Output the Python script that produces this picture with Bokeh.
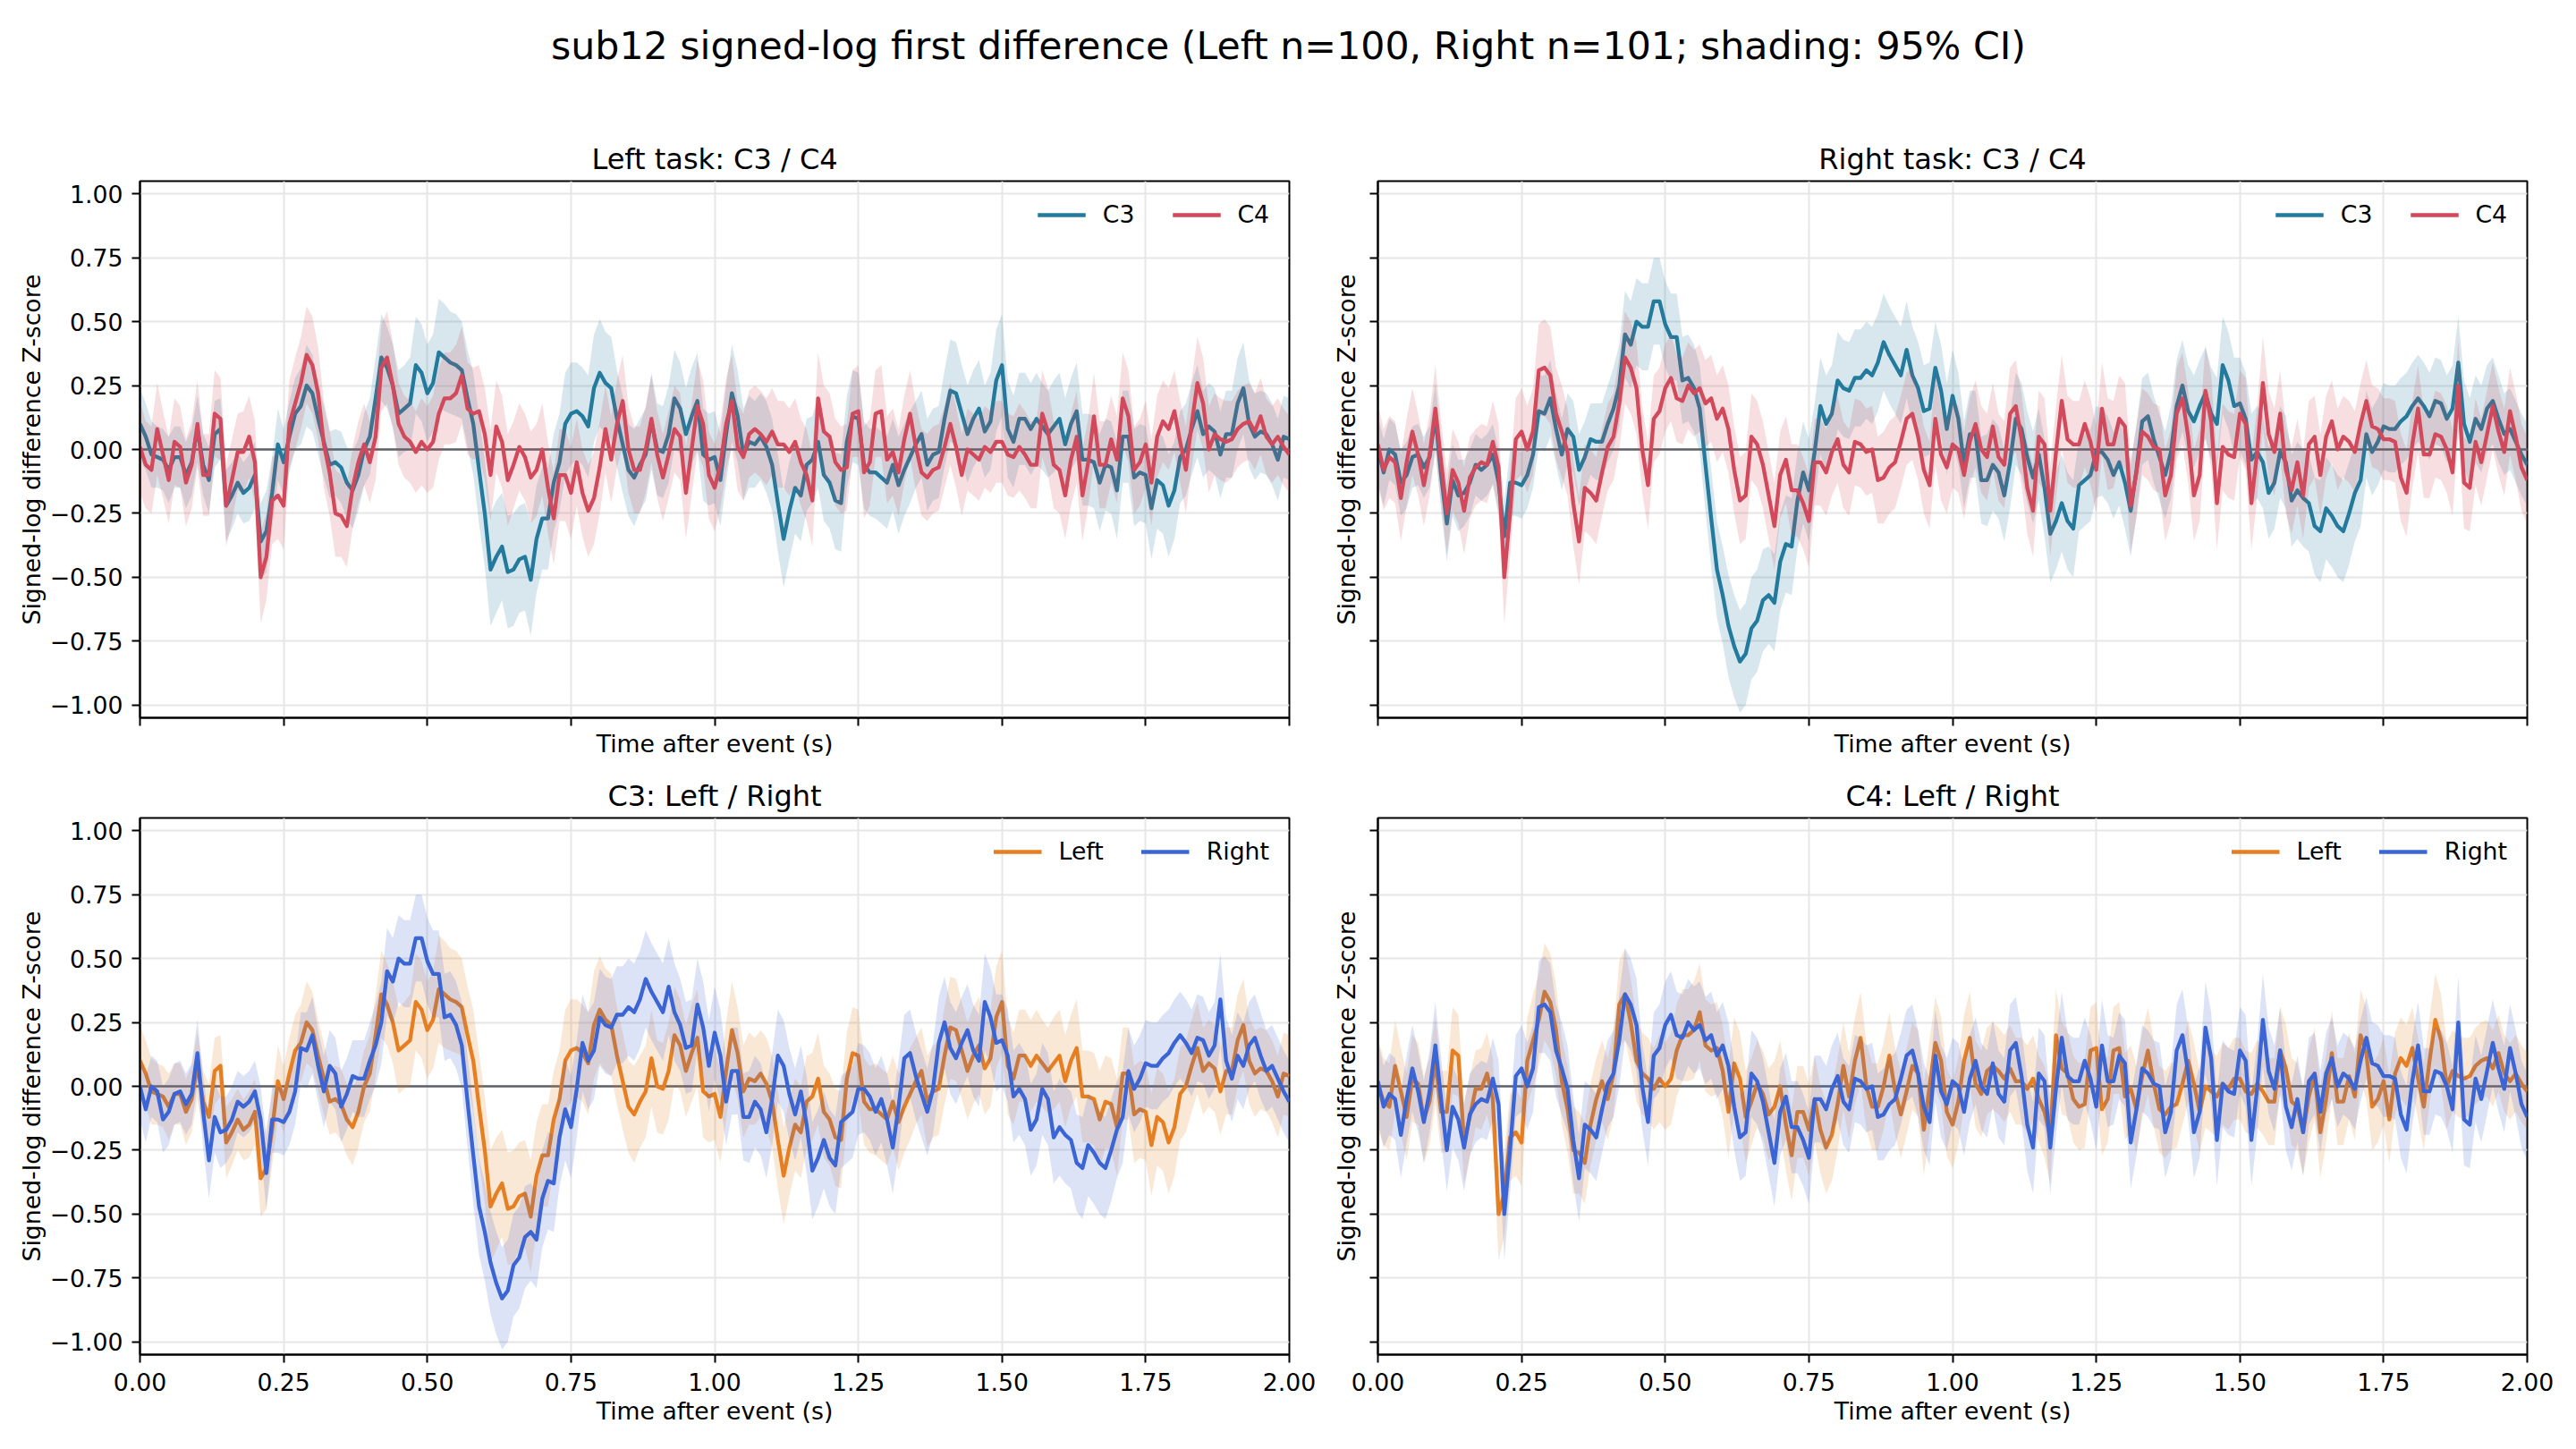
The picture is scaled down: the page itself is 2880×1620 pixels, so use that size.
import numpy as np
from bokeh.plotting import figure
from bokeh.models import (Range1d, FixedTicker, Legend, LegendItem, Span, Label,
                          CustomJSTickFormatter)
from bokeh.layouts import column, gridplot
from bokeh.embed import file_html
from bokeh.resources import INLINE

FONT = "DejaVu Sans"
SUPTITLE = "sub12 signed-log first difference (Left n=100, Right n=101; shading: 95% CI)"
PANEL_TITLES = ["Left task: C3 / C4", "Right task: C3 / C4", "C3: Left / Right", "C4: Left / Right"]
X_LABEL = "Time after event (s)"
Y_LABEL = "Signed-log difference Z-score"

# time axis: 0 .. 2 s in 10 ms steps
t = np.round(np.arange(201) * 0.01, 2)

x_ticks = [0.0, 0.25, 0.5, 0.75, 1.0, 1.25, 1.5, 1.75, 2.0]
x_tick_labels = ["0.00", "0.25", "0.50", "0.75", "1.00", "1.25", "1.50", "1.75", "2.00"]
y_ticks = [-1.0, -0.75, -0.5, -0.25, 0.0, 0.25, 0.5, 0.75, 1.0]
y_tick_labels = ["\u22121.00", "\u22120.75", "\u22120.50", "\u22120.25", "0.00", "0.25", "0.50", "0.75", "1.00"]

# mean z-score per condition / channel
left_c3 = [
    0.10, 0.05, -0.02, -0.03, -0.04, -0.08, -0.03, -0.03, -0.10, -0.05,
    0.08, -0.06, -0.12, 0.06, 0.08, -0.22, -0.18, -0.13, -0.17, -0.15,
    -0.10, -0.36, -0.32, -0.17, 0.02, -0.05, 0.05, 0.14, 0.17, 0.25,
    0.22, 0.12, 0.03, -0.06, -0.05, -0.07, -0.13, -0.16, -0.10, 0.00,
    0.05, 0.20, 0.36, 0.32, 0.25, 0.14, 0.16, 0.18, 0.33, 0.30,
    0.22, 0.26, 0.38, 0.36, 0.34, 0.33, 0.31, 0.20, 0.10, -0.08,
    -0.25, -0.47, -0.42, -0.38, -0.48, -0.47, -0.43, -0.42, -0.51, -0.35,
    -0.27, -0.27, -0.13, -0.05, 0.10, 0.14, 0.15, 0.13, 0.09, 0.24,
    0.30, 0.26, 0.24, 0.12, 0.02, -0.08, -0.11, -0.06, -0.02, 0.11,
    0.00, -0.01, 0.06, 0.20, 0.16, 0.06, 0.13, 0.19, -0.02, -0.04,
    -0.03, -0.12, 0.06, 0.22, 0.13, -0.02, 0.03, 0.02, 0.05, 0.01,
    -0.06, -0.21, -0.35, -0.24, -0.15, -0.18, -0.06, -0.04, 0.03, -0.10,
    -0.13, -0.20, -0.21, 0.03, 0.13, 0.12, -0.06, -0.09, -0.09, -0.11,
    -0.13, -0.06, -0.14, -0.08, -0.03, 0.02, 0.06, -0.06, -0.02, -0.01,
    0.12, 0.23, 0.22, 0.14, 0.06, 0.12, 0.16, 0.07, 0.11, 0.27,
    0.33, 0.08, 0.03, 0.12, 0.12, 0.08, 0.12, 0.09, 0.06, 0.09,
    0.12, 0.02, 0.10, 0.15, -0.04, -0.04, -0.05, -0.13, -0.06, -0.07,
    -0.16, 0.05, 0.05, -0.11, -0.09, -0.10, -0.23, -0.12, -0.14, -0.22,
    -0.16, -0.03, 0.00, 0.08, 0.15, 0.06, 0.09, 0.07, -0.02, 0.06,
    0.06, 0.18, 0.24, 0.10, 0.05, 0.07, 0.06, 0.02, -0.04, 0.05,
    0.04,
]
left_c4 = [
    0.01, -0.06, -0.08, 0.08, -0.02, -0.12, 0.03, 0.01, -0.13, -0.06,
    0.10, -0.10, -0.10, 0.14, 0.12, -0.22, -0.12, -0.01, -0.01, 0.05,
    -0.05, -0.50, -0.42, -0.20, -0.18, -0.22, 0.10, 0.18, 0.26, 0.37,
    0.33, 0.22, 0.02, -0.09, -0.25, -0.26, -0.30, -0.15, -0.05, 0.02,
    -0.05, 0.05, 0.32, 0.36, 0.25, 0.10, 0.05, 0.03, -0.01, 0.03,
    0.00, 0.03, 0.14, 0.20, 0.20, 0.22, 0.29, 0.16, 0.14, 0.15,
    0.06, -0.10, 0.09, 0.03, -0.12, -0.06, 0.01, -0.03, -0.11, -0.08,
    0.00, -0.15, -0.27, -0.10, -0.10, -0.17, -0.05, -0.17, -0.24, -0.19,
    -0.07, 0.08, -0.04, 0.10, 0.19, 0.00, -0.08, -0.08, 0.00, 0.12,
    -0.02, -0.11, -0.02, 0.08, 0.05, -0.17, 0.00, 0.17, 0.10, -0.10,
    -0.15, -0.06, 0.10, 0.19, 0.01, -0.03, 0.06, 0.08, 0.06, 0.03,
    0.07, 0.02, 0.02, -0.01, 0.03, -0.05, -0.10, -0.20, 0.20, 0.07,
    0.05, -0.05, -0.08, -0.07, 0.14, 0.15, -0.09, -0.05, 0.14, 0.15,
    -0.04, -0.01, -0.09, 0.04, 0.14, 0.01, -0.09, -0.11, -0.08, -0.07,
    0.01, 0.10, 0.01, -0.10, 0.00, -0.02, -0.04, 0.01, -0.01, 0.03,
    0.03, -0.02, -0.03, 0.01, -0.02, -0.06, -0.06, 0.14, 0.07, -0.06,
    -0.08, -0.18, -0.04, 0.05, -0.18, -0.05, 0.13, -0.06, -0.06, 0.04,
    -0.04, 0.20, 0.13, -0.08, -0.05, 0.02, -0.13, 0.05, 0.11, 0.08,
    0.15, 0.03, -0.08, 0.10, 0.26, 0.18, 0.00, 0.06, 0.04, 0.03,
    0.04, 0.08, 0.10, 0.11, 0.07, 0.13, 0.05, 0.02, 0.05, 0.01,
    -0.02,
]
right_c3 = [
    0.00, -0.09, 0.00, -0.02, -0.13, -0.10, -0.03, -0.02, -0.07, -0.03,
    0.13, -0.10, -0.29, -0.12, -0.18, -0.17, -0.13, -0.06, -0.08, -0.06,
    -0.02, -0.13, -0.34, -0.13, -0.13, -0.14, -0.10, -0.02, 0.15, 0.14,
    0.20, 0.08, -0.02, 0.08, 0.05, -0.08, -0.03, 0.04, 0.03, 0.03,
    0.10, 0.16, 0.25, 0.45, 0.41, 0.50, 0.48, 0.48, 0.58, 0.58,
    0.49, 0.44, 0.44, 0.27, 0.28, 0.24, 0.16, -0.06, -0.27, -0.47,
    -0.57, -0.69, -0.77, -0.83, -0.80, -0.70, -0.67, -0.59, -0.57, -0.60,
    -0.44, -0.37, -0.38, -0.20, -0.09, -0.16, -0.01, 0.17, 0.10, 0.14,
    0.27, 0.24, 0.23, 0.28, 0.28, 0.31, 0.29, 0.34, 0.42, 0.37,
    0.33, 0.29, 0.39, 0.29, 0.24, 0.15, 0.16, 0.32, 0.23, 0.08,
    0.21, 0.12, -0.06, 0.06, 0.06, -0.12, -0.12, -0.06, -0.09, -0.18,
    -0.05, 0.12, 0.08, -0.03, -0.11, -0.02, -0.15, -0.33, -0.28, -0.21,
    -0.28, -0.31, -0.14, -0.12, -0.10, -0.01, -0.01, -0.04, -0.10, -0.05,
    -0.13, -0.24, -0.08, 0.11, 0.13, 0.04, -0.03, -0.10, -0.01, 0.17,
    0.25, 0.15, 0.11, 0.17, 0.22, 0.14, 0.10, 0.33, 0.27, 0.17,
    0.18, 0.12, -0.04, -0.01, -0.05, -0.17, -0.13, -0.01, -0.05, -0.20,
    -0.16, -0.19, -0.21, -0.30, -0.32, -0.23, -0.26, -0.30, -0.32, -0.25,
    -0.17, -0.12, 0.06, -0.01, 0.03, 0.09, 0.08, 0.08, 0.11, 0.13,
    0.17, 0.20, 0.17, 0.13, 0.19, 0.18, 0.12, 0.16, 0.34, 0.10,
    0.03, 0.12, 0.08, 0.16, 0.19, 0.12, 0.06, 0.08, 0.03, -0.02,
    -0.06,
]
right_c4 = [
    0.02, -0.08, -0.03, -0.05, -0.19, -0.05, 0.07, -0.02, -0.14, -0.02,
    0.16, -0.05, -0.25, -0.08, -0.13, -0.24, -0.11, -0.07, -0.05, -0.06,
    0.03, -0.07, -0.50, -0.25, 0.04, 0.07, 0.00, 0.07, 0.31, 0.32,
    0.29, 0.14, 0.07, -0.01, -0.21, -0.36, -0.15, -0.17, -0.20, -0.09,
    0.01, 0.05, 0.18, 0.36, 0.32, 0.24, 0.00, -0.14, 0.12, 0.15,
    0.24, 0.28, 0.20, 0.19, 0.25, 0.22, 0.24, 0.18, 0.20, 0.12,
    0.16, 0.08, -0.08, -0.20, -0.18, 0.05, 0.02, -0.06, -0.18, -0.30,
    -0.10, -0.04, -0.16, -0.16, -0.21, -0.28, -0.05, -0.05, -0.09, -0.01,
    0.04, -0.06, -0.09, 0.03, 0.02, -0.01, 0.00, -0.12, -0.11, -0.07,
    -0.05, 0.03, 0.12, 0.14, 0.05, -0.08, -0.14, 0.12, -0.02, -0.07,
    0.02, 0.00, -0.10, 0.03, 0.10, 0.00, -0.03, 0.09, -0.03, -0.06,
    0.14, 0.17, 0.04, -0.15, -0.24, 0.05, 0.02, -0.24, -0.01, 0.19,
    0.04, 0.02, 0.02, 0.10, 0.03, -0.08, 0.16, 0.02, 0.02, 0.12,
    0.09, -0.22, -0.09, 0.07, 0.05, 0.01, 0.00, -0.18, -0.10, 0.14,
    0.20, 0.05, -0.18, -0.10, 0.23, 0.11, -0.21, 0.01, -0.02, -0.03,
    0.14, 0.10, -0.21, -0.01, 0.26, 0.06, -0.01, 0.14, -0.08, -0.16,
    -0.05, -0.18, 0.02, 0.05, -0.10, 0.05, 0.11, 0.00, 0.05, 0.03,
    -0.01, 0.10, 0.19, 0.09, 0.08, 0.04, 0.04, 0.03, -0.11, -0.17,
    0.02, 0.16, -0.02, -0.02, 0.06, 0.05, 0.00, -0.09, 0.25, -0.13,
    -0.15, 0.03, -0.05, 0.06, 0.17, 0.07, -0.01, 0.15, 0.05, -0.07,
    -0.12,
]

# 95% CI half-widths
left_c3_ci = [
    0.14, 0.13, 0.13, 0.12, 0.12, 0.13, 0.12, 0.12, 0.13, 0.13,
    0.13, 0.12, 0.13, 0.13, 0.12, 0.14, 0.13, 0.12, 0.12, 0.13,
    0.13, 0.15, 0.16, 0.14, 0.14, 0.13, 0.14, 0.14, 0.15, 0.16,
    0.15, 0.14, 0.14, 0.13, 0.13, 0.14, 0.14, 0.15, 0.14, 0.14,
    0.15, 0.16, 0.17, 0.16, 0.16, 0.17, 0.17, 0.18, 0.19, 0.19,
    0.19, 0.19, 0.21, 0.21, 0.20, 0.20, 0.19, 0.19, 0.20, 0.21,
    0.21, 0.22, 0.22, 0.21, 0.22, 0.22, 0.21, 0.21, 0.22, 0.21,
    0.20, 0.20, 0.19, 0.19, 0.20, 0.20, 0.19, 0.19, 0.20, 0.21,
    0.21, 0.20, 0.20, 0.19, 0.19, 0.18, 0.19, 0.18, 0.18, 0.19,
    0.18, 0.18, 0.19, 0.19, 0.18, 0.18, 0.19, 0.19, 0.18, 0.18,
    0.18, 0.18, 0.19, 0.19, 0.18, 0.18, 0.18, 0.17, 0.17, 0.18,
    0.18, 0.19, 0.19, 0.19, 0.18, 0.18, 0.18, 0.17, 0.18, 0.18,
    0.18, 0.19, 0.19, 0.18, 0.18, 0.18, 0.17, 0.17, 0.18, 0.18,
    0.18, 0.18, 0.19, 0.18, 0.18, 0.17, 0.17, 0.18, 0.18, 0.18,
    0.19, 0.20, 0.20, 0.19, 0.19, 0.19, 0.19, 0.18, 0.19, 0.20,
    0.20, 0.19, 0.18, 0.18, 0.18, 0.18, 0.18, 0.17, 0.17, 0.18,
    0.18, 0.18, 0.18, 0.19, 0.18, 0.18, 0.18, 0.19, 0.18, 0.18,
    0.19, 0.18, 0.18, 0.19, 0.19, 0.19, 0.20, 0.19, 0.19, 0.20,
    0.19, 0.18, 0.18, 0.18, 0.18, 0.17, 0.17, 0.17, 0.17, 0.17,
    0.17, 0.18, 0.18, 0.17, 0.17, 0.16, 0.16, 0.16, 0.16, 0.16,
    0.16,
]
left_c4_ci = [
    0.18, 0.17, 0.17, 0.18, 0.17, 0.17, 0.17, 0.16, 0.17, 0.17,
    0.17, 0.16, 0.16, 0.17, 0.16, 0.16, 0.16, 0.15, 0.16, 0.16,
    0.16, 0.18, 0.17, 0.17, 0.17, 0.17, 0.17, 0.18, 0.18, 0.19,
    0.19, 0.18, 0.17, 0.17, 0.17, 0.16, 0.16, 0.16, 0.16, 0.16,
    0.16, 0.17, 0.17, 0.18, 0.17, 0.16, 0.16, 0.16, 0.16, 0.17,
    0.17, 0.18, 0.18, 0.18, 0.18, 0.19, 0.19, 0.18, 0.18, 0.18,
    0.18, 0.18, 0.18, 0.18, 0.18, 0.17, 0.17, 0.17, 0.18, 0.18,
    0.18, 0.18, 0.18, 0.18, 0.18, 0.18, 0.17, 0.17, 0.18, 0.18,
    0.18, 0.17, 0.17, 0.17, 0.18, 0.17, 0.17, 0.17, 0.17, 0.17,
    0.17, 0.17, 0.17, 0.17, 0.17, 0.18, 0.18, 0.18, 0.17, 0.17,
    0.17, 0.17, 0.18, 0.18, 0.17, 0.17, 0.17, 0.17, 0.17, 0.17,
    0.17, 0.17, 0.17, 0.17, 0.17, 0.17, 0.18, 0.18, 0.18, 0.18,
    0.17, 0.17, 0.17, 0.17, 0.17, 0.18, 0.18, 0.17, 0.17, 0.18,
    0.17, 0.17, 0.17, 0.17, 0.17, 0.17, 0.17, 0.17, 0.17, 0.17,
    0.16, 0.16, 0.16, 0.16, 0.16, 0.16, 0.16, 0.16, 0.16, 0.16,
    0.16, 0.16, 0.16, 0.17, 0.17, 0.17, 0.17, 0.17, 0.17, 0.17,
    0.17, 0.17, 0.18, 0.18, 0.18, 0.17, 0.17, 0.17, 0.17, 0.17,
    0.17, 0.18, 0.18, 0.17, 0.17, 0.17, 0.17, 0.16, 0.16, 0.16,
    0.16, 0.16, 0.17, 0.17, 0.18, 0.18, 0.17, 0.16, 0.16, 0.16,
    0.15, 0.15, 0.15, 0.15, 0.15, 0.15, 0.15, 0.15, 0.15, 0.15,
    0.15,
]
right_c3_ci = [
    0.13, 0.13, 0.12, 0.12, 0.13, 0.13, 0.12, 0.12, 0.12, 0.12,
    0.13, 0.14, 0.15, 0.14, 0.14, 0.13, 0.13, 0.12, 0.12, 0.12,
    0.12, 0.13, 0.14, 0.13, 0.13, 0.13, 0.13, 0.13, 0.14, 0.15,
    0.15, 0.14, 0.14, 0.14, 0.14, 0.14, 0.14, 0.14, 0.15, 0.15,
    0.15, 0.16, 0.16, 0.17, 0.17, 0.17, 0.17, 0.17, 0.17, 0.17,
    0.17, 0.17, 0.17, 0.17, 0.17, 0.17, 0.17, 0.18, 0.19, 0.19,
    0.19, 0.20, 0.20, 0.20, 0.20, 0.20, 0.20, 0.20, 0.19, 0.19,
    0.19, 0.19, 0.19, 0.19, 0.20, 0.20, 0.19, 0.19, 0.19, 0.19,
    0.19, 0.19, 0.19, 0.19, 0.19, 0.19, 0.19, 0.19, 0.19, 0.19,
    0.19, 0.19, 0.19, 0.19, 0.18, 0.18, 0.18, 0.18, 0.18, 0.18,
    0.18, 0.18, 0.17, 0.17, 0.17, 0.17, 0.18, 0.18, 0.18, 0.18,
    0.18, 0.18, 0.18, 0.18, 0.18, 0.18, 0.19, 0.19, 0.19, 0.19,
    0.19, 0.19, 0.18, 0.18, 0.18, 0.18, 0.17, 0.17, 0.17, 0.17,
    0.18, 0.18, 0.18, 0.17, 0.17, 0.17, 0.17, 0.17, 0.18, 0.18,
    0.18, 0.18, 0.18, 0.18, 0.18, 0.18, 0.18, 0.19, 0.19, 0.19,
    0.18, 0.18, 0.18, 0.18, 0.18, 0.18, 0.18, 0.18, 0.18, 0.18,
    0.19, 0.19, 0.19, 0.19, 0.20, 0.20, 0.20, 0.20, 0.20, 0.20,
    0.19, 0.18, 0.17, 0.17, 0.17, 0.17, 0.17, 0.17, 0.17, 0.17,
    0.17, 0.17, 0.17, 0.17, 0.17, 0.17, 0.17, 0.17, 0.18, 0.17,
    0.17, 0.17, 0.17, 0.17, 0.17, 0.17, 0.16, 0.16, 0.16, 0.16,
    0.16,
]
right_c4_ci = [
    0.16, 0.16, 0.16, 0.16, 0.17, 0.17, 0.17, 0.16, 0.16, 0.16,
    0.17, 0.16, 0.16, 0.16, 0.16, 0.17, 0.16, 0.15, 0.15, 0.15,
    0.16, 0.17, 0.18, 0.17, 0.16, 0.17, 0.17, 0.17, 0.18, 0.19,
    0.19, 0.18, 0.18, 0.17, 0.17, 0.17, 0.17, 0.17, 0.17, 0.17,
    0.17, 0.17, 0.18, 0.18, 0.18, 0.18, 0.17, 0.17, 0.17, 0.17,
    0.17, 0.17, 0.17, 0.17, 0.17, 0.17, 0.17, 0.17, 0.17, 0.17,
    0.17, 0.17, 0.17, 0.17, 0.17, 0.17, 0.17, 0.17, 0.17, 0.17,
    0.17, 0.17, 0.18, 0.18, 0.18, 0.18, 0.17, 0.17, 0.17, 0.17,
    0.17, 0.17, 0.17, 0.17, 0.17, 0.17, 0.17, 0.17, 0.18, 0.18,
    0.18, 0.18, 0.18, 0.18, 0.17, 0.17, 0.17, 0.18, 0.18, 0.18,
    0.17, 0.17, 0.17, 0.17, 0.17, 0.17, 0.17, 0.17, 0.17, 0.17,
    0.18, 0.18, 0.18, 0.18, 0.18, 0.18, 0.18, 0.18, 0.18, 0.18,
    0.17, 0.17, 0.17, 0.17, 0.17, 0.17, 0.18, 0.18, 0.17, 0.17,
    0.17, 0.18, 0.18, 0.17, 0.17, 0.17, 0.17, 0.18, 0.18, 0.18,
    0.18, 0.18, 0.18, 0.18, 0.18, 0.18, 0.18, 0.17, 0.17, 0.17,
    0.17, 0.18, 0.18, 0.18, 0.18, 0.17, 0.17, 0.17, 0.17, 0.17,
    0.17, 0.17, 0.17, 0.16, 0.16, 0.16, 0.16, 0.16, 0.16, 0.16,
    0.16, 0.16, 0.16, 0.16, 0.16, 0.16, 0.16, 0.16, 0.17, 0.17,
    0.17, 0.17, 0.17, 0.17, 0.17, 0.17, 0.17, 0.17, 0.18, 0.18,
    0.17, 0.17, 0.17, 0.17, 0.17, 0.17, 0.17, 0.17, 0.17, 0.17,
    0.17,
]

C3_COLOR = "#237a9d"
C4_COLOR = "#d1495b"
LEFT_COLOR = "#e67e22"
RIGHT_COLOR = "#3b65d4"
BAND_ALPHA = 0.18


def tick_formatter(values, texts):
    return CustomJSTickFormatter(args=dict(tick_values=values, tick_texts=texts), code="""
        for (let i = 0; i < tick_values.length; i++) {
            if (Math.abs(tick_values[i] - tick) < 1e-9) { return tick_texts[i]; }
        }
        return "";
    """)


def make_panel(title, top_row, left_col, series, legend_labels):
    p = figure(frame_width=1285, frame_height=600,
               x_range=Range1d(0, 2), y_range=Range1d(-1.05, 1.05),
               min_border_left=156 if left_col else 60,
               min_border_right=39 if left_col else 55,
               min_border_top=72 if top_row else 52,
               min_border_bottom=60 if top_row else 106,
               output_backend="svg", toolbar_location=None, tools="")
    p.title.text = title
    p.title.text_font = FONT
    p.title.text_font_size = "32px"
    p.title.text_font_style = "normal"
    p.title.text_color = "black"
    p.title.align = "center"
    p.title.standoff = 12

    p.outline_line_color = "black"
    p.outline_line_width = 2
    p.outline_line_alpha = 1.0

    for ax in (p.xaxis[0], p.yaxis[0]):
        ax.axis_line_color = "black"
        ax.axis_line_width = 2
        ax.major_tick_line_color = "black"
        ax.major_tick_line_width = 2
        ax.major_tick_out = 9
        ax.major_tick_in = 0
        ax.minor_tick_out = 0
        ax.minor_tick_in = 0
        ax.major_label_text_font = FONT
        ax.major_label_text_font_size = "26.7px"
        ax.major_label_text_color = "black"
        ax.axis_label_text_font = FONT
        ax.axis_label_text_font_size = "26.7px"
        ax.axis_label_text_font_style = "normal"
        ax.axis_label_text_color = "black"

    p.xaxis.ticker = FixedTicker(ticks=x_ticks)
    p.yaxis.ticker = FixedTicker(ticks=y_ticks)
    blank_x = [""] * len(x_ticks)
    blank_y = [""] * len(y_ticks)
    p.xaxis.formatter = tick_formatter(x_ticks, blank_x if top_row else x_tick_labels)
    p.yaxis.formatter = tick_formatter(y_ticks, y_tick_labels if left_col else blank_y)
    p.xaxis.axis_label = X_LABEL
    p.yaxis.axis_label = Y_LABEL
    p.xaxis.major_label_standoff = 11
    p.yaxis.major_label_standoff = 10
    p.xaxis.axis_label_standoff = 4
    p.yaxis.axis_label_standoff = 2 if left_col else 11

    p.grid.grid_line_color = "#e6e6e6"
    p.grid.grid_line_width = 2

    p.add_layout(Span(location=0, dimension="width", line_color="#5d6166",
                      line_width=2.5, level="underlay"))

    items = []
    for (mean, ci, color), label in zip(series, legend_labels):
        m = np.asarray(mean)
        h = np.asarray(ci)
        p.varea(x=t, y1=m - h, y2=m + h, fill_color=color, fill_alpha=BAND_ALPHA)
        r = p.line(x=t, y=m, line_color=color, line_width=4.3, line_join="round")
        items.append(LegendItem(label=label, renderers=[r]))

    legend = Legend(items=items, orientation="horizontal", location="top_right",
                    border_line_color=None, background_fill_alpha=0.0,
                    label_text_font=FONT, label_text_font_size="26.7px",
                    label_text_color="black",
                    glyph_width=54, glyph_height=26, label_standoff=19,
                    spacing=42, padding=18, margin=22)
    p.add_layout(legend)
    return p


p1 = make_panel(PANEL_TITLES[0], True, True,
                [(left_c3, left_c3_ci, C3_COLOR), (left_c4, left_c4_ci, C4_COLOR)], ["C3", "C4"])
p2 = make_panel(PANEL_TITLES[1], True, False,
                [(right_c3, right_c3_ci, C3_COLOR), (right_c4, right_c4_ci, C4_COLOR)], ["C3", "C4"])
p3 = make_panel(PANEL_TITLES[2], False, True,
                [(left_c3, left_c3_ci, LEFT_COLOR), (right_c3, right_c3_ci, RIGHT_COLOR)], ["Left", "Right"])
p4 = make_panel(PANEL_TITLES[3], False, False,
                [(left_c4, left_c4_ci, LEFT_COLOR), (right_c4, right_c4_ci, RIGHT_COLOR)], ["Left", "Right"])

# figure-wide heading
head = figure(width=2880, height=130, x_range=Range1d(0, 1), y_range=Range1d(0, 1),
              min_border=0, output_backend="svg", toolbar_location=None, tools="")
head.axis.visible = False
head.grid.visible = False
head.outline_line_color = None
head.add_layout(Label(x=1440, y=80, x_units="screen", y_units="screen", text=SUPTITLE,
                      text_align="center", text_baseline="middle", text_font=FONT,
                      text_font_size="42.7px", text_color="black"))

grid = gridplot([[p1, p2], [p3, p4]], toolbar_location=None)
layout = column(head, grid)

open("out.html", "w").write(file_html(layout, INLINE))
